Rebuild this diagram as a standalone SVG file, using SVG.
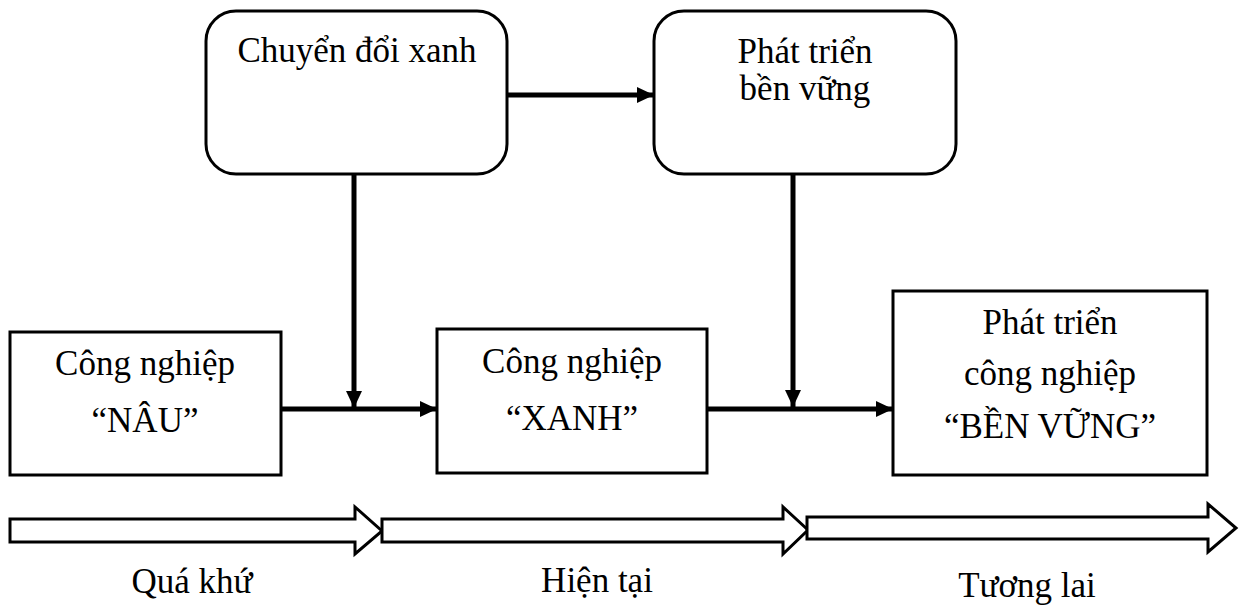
<svg xmlns="http://www.w3.org/2000/svg" width="1242" height="605" viewBox="0 0 1242 605">
<style>
.box{fill:#fff;stroke:#000;stroke-width:3}
.t{font-family:"Liberation Serif","Times New Roman",serif;font-size:35px;fill:#000;text-anchor:middle}
.c{stroke:#000;stroke-width:5;fill:none}
.blk{fill:#fff;stroke:#000;stroke-width:3;stroke-linejoin:miter}
</style>
<defs>
<marker id="ah" markerUnits="userSpaceOnUse" markerWidth="17" markerHeight="16" refX="17" refY="8" orient="auto">
<path d="M0,0 L17,8 L0,16 Z" fill="#000"/>
</marker>
</defs>
<rect width="1242" height="605" fill="#fff"/>
<g id="connectors">
<path class="c" d="M507,95 L654,95" marker-end="url(#ah)"/>
<path class="c" d="M354,174 L354,408" marker-end="url(#ah)"/>
<path class="c" d="M281,409 L437,409" marker-end="url(#ah)"/>
<path class="c" d="M793,174 L793,407" marker-end="url(#ah)"/>
<path class="c" d="M707,409 L893,409" marker-end="url(#ah)"/>
</g>
<g id="chuyen-doi-xanh">
<rect class="box" x="206" y="11" width="301" height="163" rx="30"/>
<text class="t" x="357" y="62">Chuyển đổi xanh</text>
</g>
<g id="phat-trien-ben-vung">
<rect class="box" x="654" y="11" width="302" height="163" rx="30"/>
<text class="t" x="805" y="63">Phát triển</text>
<text class="t" x="805" y="100">bền vững</text>
</g>
<g id="cong-nghiep-nau">
<rect class="box" x="10" y="332" width="271" height="143"/>
<text class="t" x="145" y="375">Công nghiệp</text>
<text class="t" x="145" y="432">“NÂU”</text>
</g>
<g id="cong-nghiep-xanh">
<rect class="box" x="437" y="329" width="270" height="144"/>
<text class="t" x="572" y="373">Công nghiệp</text>
<text class="t" x="572" y="430">“XANH”</text>
</g>
<g id="phat-trien-cong-nghiep-ben-vung">
<rect class="box" x="893" y="291" width="314" height="184"/>
<text class="t" x="1050" y="334">Phát triển</text>
<text class="t" x="1050" y="385">công nghiệp</text>
<text class="t" x="1050" y="438">“BỀN VỮNG”</text>
</g>
<g id="timeline-qua-khu">
<path class="blk" d="M10,519 L355,519 L355,507 L382,531 L355,554 L355,542 L10,542 Z"/>
<text class="t" x="192" y="593">Quá khứ</text>
</g>
<g id="timeline-hien-tai">
<path class="blk" d="M382,519 L783,519 L783,507 L808,530 L783,554 L783,542 L382,542 Z"/>
<text class="t" x="597" y="592">Hiện tại</text>
</g>
<g id="timeline-tuong-lai">
<path class="blk" d="M807,517 L1208,517 L1208,504 L1236,528 L1208,552 L1208,539 L807,539 Z"/>
<text class="t" x="1027" y="597">Tương lai</text>
</g>
</svg>
